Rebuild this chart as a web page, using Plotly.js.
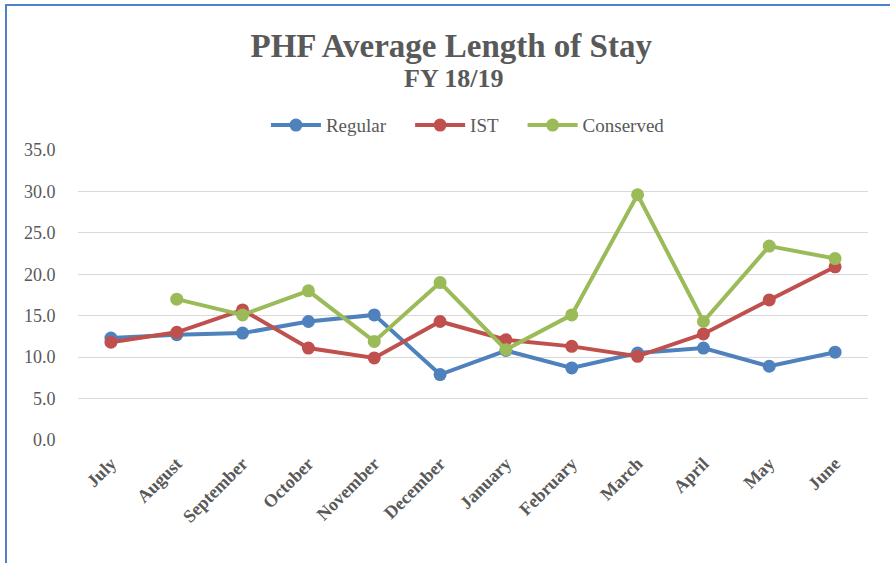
<!DOCTYPE html>
<html><head><meta charset="utf-8">
<script src="https://cdn.plot.ly/plotly-3.0.1.min.js"></script>
<style>
html,body{margin:0;padding:0;background:#fff;}
#frame{position:absolute;left:0;top:0;width:890px;height:563px;overflow:hidden;}
#border{position:absolute;left:5px;top:4px;width:900px;height:600px;border-left:2px solid #4f81c8;border-top:2px solid #4f81c8;box-sizing:border-box;pointer-events:none;}
#chart{position:absolute;left:0;top:0;width:890px;height:563px;}
</style></head>
<body><div id="frame"><div id="chart"></div><div id="border"></div></div>
<script>
const months = ["July","August","September","October","November","December","January","February","March","April","May","June"];
const regular = [12.3, 12.7, 12.9, 14.3, 15.1, 7.9, 10.8, 8.7, 10.5, 11.1, 8.9, 10.6];
const ist = [11.8, 13.0, 15.7, 11.1, 9.9, 14.3, 12.1, 11.3, 10.1, 12.8, 16.9, 20.9];
const conserved = [null, 17.0, 15.1, 18.0, 11.9, 19.0, 10.9, 15.1, 29.6, 14.3, 23.4, 21.9];
const seriesNames = ["Regular", "IST", "Conserved"];
const yTicks = [0,5,10,15,20,25,30,35];
const yTickText = ["0.0","5.0","10.0","15.0","20.0","25.0","30.0","35.0"];

const serif = "Liberation Serif, DejaVu Serif, serif";
const pad = "\u00a0\u00a0\u00a0\u00a0";
function tr(name, y, color){
  return {x: months, y: y, name: name + pad, type: 'scatter', mode: 'lines+markers',
    line: {color: color, width: 4}, marker: {color: color, size: 13}, connectgaps: false};
}
const data = [tr(seriesNames[0], regular, "#4F81BD"), tr(seriesNames[1], ist, "#C0504D"), tr(seriesNames[2], conserved, "#9BBB59")];
const layout = {
  width: 890, height: 563,
  margin: {l: 78, r: 22, t: 150, b: 123},
  paper_bgcolor: '#fff', plot_bgcolor: '#fff',
  title: {text: '<b>PHF Average Length of Stay</b>',
    x: 0.507, xanchor: 'center', y: 0.92, yanchor: 'middle',
    font: {family: serif, size: 33, color: '#595959'}},
  annotations: [{text: '<b>FY 18/19</b>', xref: 'paper', yref: 'paper', x: 0.475, y: 1.245,
    xanchor: 'center', yanchor: 'middle', showarrow: false,
    font: {family: serif, size: 26, color: '#595959'}}],
  showlegend: true,
  legend: {orientation: 'h', x: 0.505, xanchor: 'center', y: 1.02, yanchor: 'bottom',
    font: {family: serif, size: 19, color: '#595959'}, itemwidth: 50, tracegroupgap: 0},
  xaxis: {type: 'category', tickangle: -45, showgrid: false, zeroline: false, showline: false,
    tickfont: {family: serif, size: 18, color: '#595959', weight: 'bold'}, ticks: 'outside', ticklen: 5, tickcolor: 'rgba(0,0,0,0)',
    range: [-0.5, 11.5]},
  yaxis: {range: [0, 35], tickvals: yTicks, ticktext: yTickText, showgrid: true, gridcolor: '#d9d9d9', gridwidth: 1,
    zeroline: false, showline: false, ticks: 'outside', ticklen: 18, tickcolor: 'rgba(0,0,0,0)',
    tickfont: {family: serif, size: 18, color: '#595959'}}
};
Plotly.newPlot('chart', data, layout, {displayModeBar: false, staticPlot: true});
</script></body></html>
